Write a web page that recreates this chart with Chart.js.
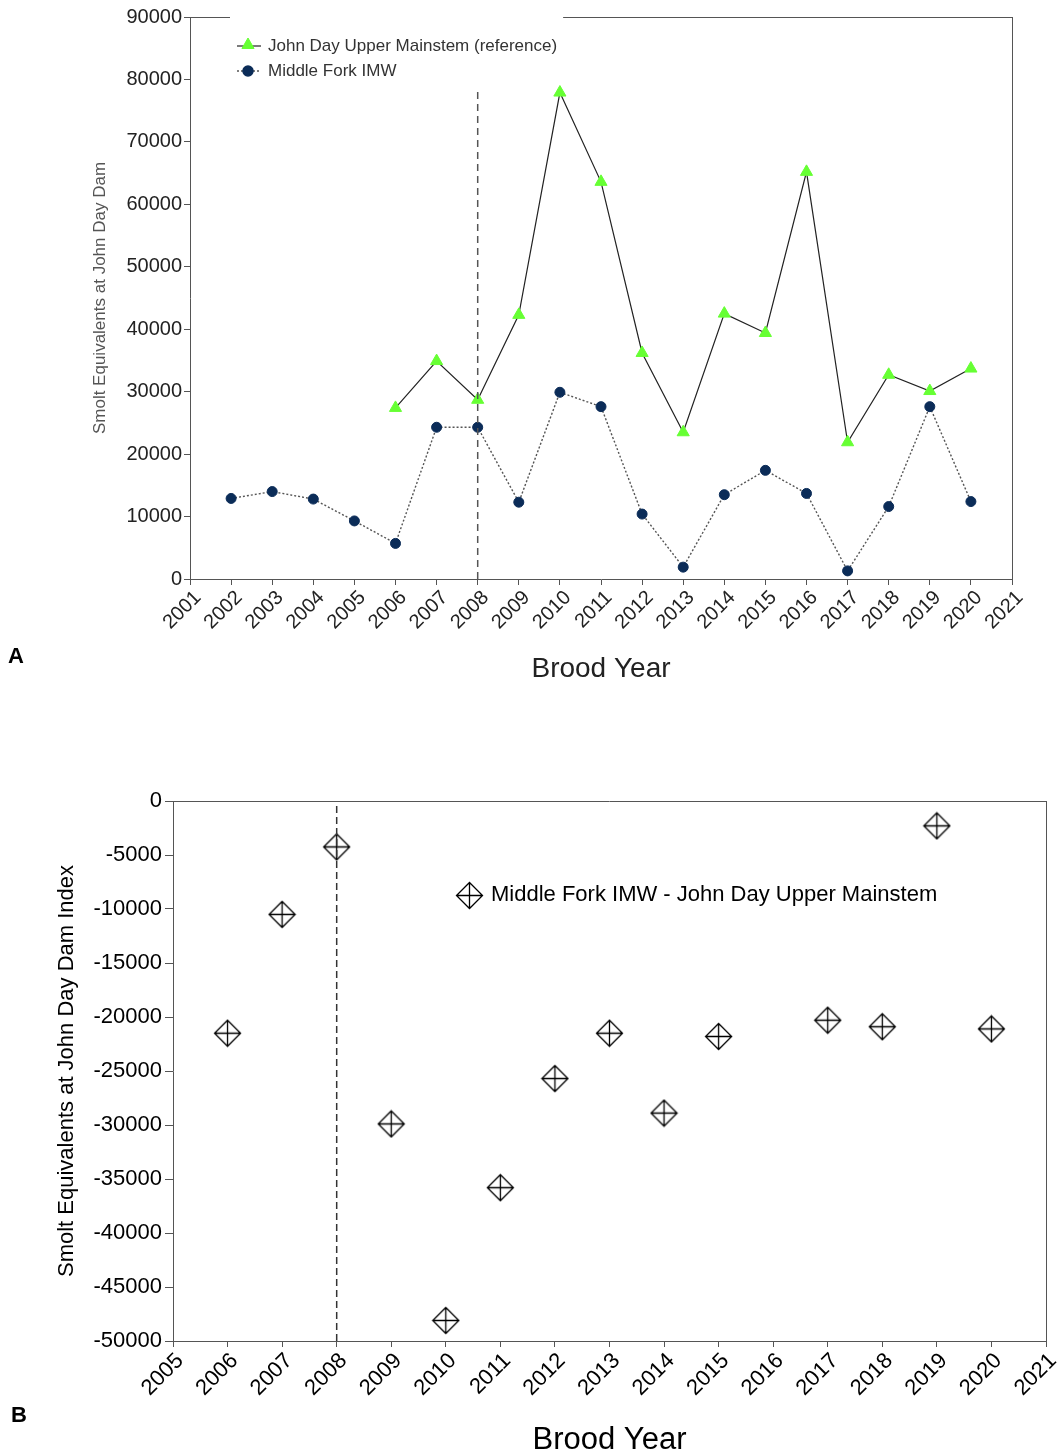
<!DOCTYPE html>
<html><head><meta charset="utf-8">
<script src="https://cdn.jsdelivr.net/npm/chart.js@4.4.1/dist/chart.umd.min.js"></script>
<style>
html,body{margin:0;padding:0;background:#fff;width:1060px;height:1452px;overflow:hidden;}
canvas{position:absolute;left:0;display:block;}
#ca{top:0;}
#cb{top:700px;}
.pl{position:absolute;font:bold 22px 'Liberation Sans',Arial,sans-serif;line-height:22px;color:#000;}
</style></head><body>
<canvas id="ca" width="1060" height="700"></canvas>
<canvas id="cb" width="1060" height="752"></canvas>
<div class="pl" style="left:8px;top:645px">A</div>
<div class="pl" style="left:11px;top:1404px">B</div>
<script>
// ---------- DATA (panel A) ----------
const xTicksA = [2001,2002,2003,2004,2005,2006,2007,2008,2009,2010,2011,2012,2013,2014,2015,2016,2017,2018,2019,2020,2021];
const yTicksA = [0,10000,20000,30000,40000,50000,60000,70000,80000,90000];
const upperYears  = [2006,2007,2008,2009,2010,2011,2012,2013,2014,2015,2016,2017,2018,2019,2020];
const upperValues = [27400,34900,28700,42300,77900,63600,36200,23500,42500,39400,65200,21900,32700,30100,33700];
const middleYears  = [2002,2003,2004,2005,2006,2007,2008,2009,2010,2011,2012,2013,2014,2015,2016,2017,2018,2019,2020];
const middleValues = [12900,14000,12800,9300,5700,24300,24300,12300,29900,27600,10400,1900,13500,17400,13700,1300,11600,27600,12400];
const refYear = 2008;
const refLineA = [0, 78000];
const seriesNamesA = ['John Day Upper Mainstem (reference)', 'Middle Fork IMW'];

// ---------- DATA (panel B) ----------
const xTicksB = [2005,2006,2007,2008,2009,2010,2011,2012,2013,2014,2015,2016,2017,2018,2019,2020,2021];
const yTicksB = [-50000,-45000,-40000,-35000,-30000,-25000,-20000,-15000,-10000,-5000,0];
const diffYears  = [2006,2007,2008,2009,2010,2011,2012,2013,2014,2015,2017,2018,2019,2020];
const diffValues = [-21500,-10500,-4250,-29900,-48100,-35800,-25700,-21500,-28900,-21800,-20300,-20900,-2300,-21100];
const refLineB = [-50000, 0];
const seriesNameB = 'Middle Fork IMW - John Day Upper Mainstem';

// ---------- helpers ----------
const FF = "'Liberation Sans', Arial, sans-serif";
const pts = (xs, ys) => xs.map((x, i) => ({x: x, y: ys[i]}));
const setTicks = arr => scale => { scale.ticks = arr.map(v => ({value: v})); };

// diamond-with-cross marker image
function makeDiamond(R) {
  const s = Math.ceil(2 * R + 3);
  const c = document.createElement('canvas');
  c.width = s; c.height = s;
  const g = c.getContext('2d');
  const m = s / 2;
  g.strokeStyle = '#000'; g.lineWidth = 1.3;
  g.beginPath();
  g.moveTo(m, m - R); g.lineTo(m + R, m); g.lineTo(m, m + R); g.lineTo(m - R, m); g.closePath();
  g.moveTo(m, m - R); g.lineTo(m, m + R);
  g.moveTo(m - R, m); g.lineTo(m + R, m);
  g.stroke();
  return c;
}
const diamondImg = makeDiamond(13);

// ---------- Panel A ----------
const GREEN = '#66ff33';
const NAVY = '#0b2c58';

const frameLegendA = {
  id: 'frameLegendA',
  afterDraw(chart) {
    const ctx = chart.ctx, ca = chart.chartArea;
    ctx.save();
    ctx.font = '17px ' + FF;
    const mx = ca.left + 58, tx = ca.left + 78;
    const rows = [ca.top + 29, ca.top + 54];
    const tw = Math.max(...seriesNamesA.map(l => ctx.measureText(l).width));
    const gapL = mx - 18, gapR = tx + tw + 6;
    // frame top (broken by legend) + right
    ctx.strokeStyle = '#555'; ctx.lineWidth = 1;
    ctx.beginPath();
    ctx.moveTo(ca.left, ca.top + 0.5); ctx.lineTo(gapL, ca.top + 0.5);
    ctx.moveTo(gapR, ca.top + 0.5); ctx.lineTo(ca.right, ca.top + 0.5);
    ctx.moveTo(ca.right + 0.5, ca.top); ctx.lineTo(ca.right + 0.5, ca.bottom);
    ctx.stroke();
    // legend row 1
    ctx.strokeStyle = '#222'; ctx.lineWidth = 1.2; ctx.setLineDash([]);
    ctx.beginPath(); ctx.moveTo(mx - 11, rows[0]); ctx.lineTo(mx + 13, rows[0]); ctx.stroke();
    ctx.fillStyle = GREEN; ctx.strokeStyle = GREEN; ctx.lineWidth = 1;
    Chart.helpers.drawPoint(ctx, {pointStyle: 'triangle', radius: 7, borderWidth: 1}, mx, rows[0] - 1);
    // legend row 2
    ctx.strokeStyle = '#555'; ctx.lineWidth = 1.5; ctx.setLineDash([2, 2]);
    ctx.beginPath(); ctx.moveTo(mx - 11, rows[1]); ctx.lineTo(mx + 11, rows[1]); ctx.stroke();
    ctx.setLineDash([]);
    ctx.fillStyle = NAVY; ctx.strokeStyle = NAVY;
    Chart.helpers.drawPoint(ctx, {pointStyle: 'circle', radius: 5, borderWidth: 1}, mx, rows[1]);
    // texts
    ctx.fillStyle = '#333'; ctx.textBaseline = 'middle'; ctx.textAlign = 'left';
    seriesNamesA.forEach((l, i) => ctx.fillText(l, tx, rows[i]));
    ctx.restore();
  }
};

new Chart(document.getElementById('ca'), {
  type: 'scatter',
  data: {
    datasets: [
      {
        label: 'ref', data: pts([refYear, refYear], refLineA), showLine: true,
        borderColor: '#555', borderWidth: 1.5, borderDash: [7, 5], pointRadius: 0
      },
      {
        label: seriesNamesA[1], data: pts(middleYears, middleValues), showLine: true,
        borderColor: '#555', borderWidth: 1.4, borderDash: [2, 2],
        pointStyle: 'circle', pointRadius: 5, pointBackgroundColor: NAVY, pointBorderColor: NAVY, pointBorderWidth: 1
      },
      {
        label: seriesNamesA[0], data: pts(upperYears, upperValues), showLine: true,
        borderColor: '#222', borderWidth: 1.2,
        pointStyle: 'triangle', pointRadius: 7, pointBackgroundColor: GREEN, pointBorderColor: GREEN, pointBorderWidth: 1
      }
    ]
  },
  options: {
    responsive: false, animation: false, devicePixelRatio: 1, events: [],
    layout: {padding: {left: 0, top: 17, right: 48, bottom: 0}},
    plugins: {legend: {display: false}, tooltip: {enabled: false}},
    scales: {
      x: {
        type: 'linear', min: 2001, max: 2021,
        afterBuildTicks: setTicks(xTicksA),
        afterFit: s => { s.height = 121; s.paddingLeft = 0; s.paddingRight = 0; },
        grid: {drawOnChartArea: false, drawTicks: true, tickLength: 6, color: '#555'},
        border: {display: true, color: '#555', width: 1},
        ticks: {autoSkip: false, maxRotation: 45, minRotation: 45, padding: 1, labelOffset: 8, color: '#222',
                font: {family: FF, size: 20}, callback: v => String(v)},
        title: {display: true, text: 'Brood Year', color: '#222',
                font: {family: FF, size: 28, lineHeight: 1}, padding: {top: 0, bottom: 17}}
      },
      y: {
        type: 'linear', min: 0, max: 90000,
        afterBuildTicks: setTicks(yTicksA),
        afterFit: s => { s.width = 190; },
        grid: {drawOnChartArea: false, drawTicks: true, tickLength: 6, color: '#555'},
        border: {display: true, color: '#555', width: 1},
        ticks: {padding: 2, color: '#222', font: {family: FF, size: 20}, callback: v => String(v)},
        title: {display: true, text: 'Smolt Equivalents at John Day Dam', color: '#555',
                font: {family: FF, size: 17, lineHeight: 1}, padding: {top: 91.5, bottom: 0}}
      }
    }
  },
  plugins: [frameLegendA]
});

// ---------- Panel B ----------
const frameLegendB = {
  id: 'frameLegendB',
  afterDraw(chart) {
    const ctx = chart.ctx, ca = chart.chartArea;
    ctx.save();
    ctx.strokeStyle = '#555'; ctx.lineWidth = 1;
    ctx.beginPath();
    ctx.moveTo(ca.left, ca.top + 0.5); ctx.lineTo(ca.right, ca.top + 0.5);
    ctx.moveTo(ca.right + 0.5, ca.top); ctx.lineTo(ca.right + 0.5, ca.bottom);
    ctx.stroke();
    const mx = ca.left + 296, my = ca.top + 94;
    ctx.drawImage(diamondImg, Math.round(mx - diamondImg.width / 2), Math.round(my - diamondImg.height / 2));
    ctx.font = '22px ' + FF; ctx.fillStyle = '#000';
    ctx.textBaseline = 'middle'; ctx.textAlign = 'left';
    ctx.fillText(seriesNameB, mx + 22, my);
    ctx.restore();
  }
};

new Chart(document.getElementById('cb'), {
  type: 'scatter',
  data: {
    datasets: [
      {
        label: 'ref', data: pts([refYear, refYear], refLineB), showLine: true,
        borderColor: '#333', borderWidth: 1.5, borderDash: [7, 4], pointRadius: 0
      },
      {
        label: seriesNameB, data: pts(diffYears, diffValues), showLine: false,
        pointStyle: diamondImg, pointRadius: 13
      }
    ]
  },
  options: {
    responsive: false, animation: false, devicePixelRatio: 1, events: [],
    layout: {padding: {left: 0, top: 101, right: 12, bottom: 0}},
    plugins: {legend: {display: false}, tooltip: {enabled: false}},
    scales: {
      x: {
        type: 'linear', min: 2005, max: 2021,
        afterBuildTicks: setTicks(xTicksB),
        afterFit: s => { s.height = 111; s.paddingLeft = 0; s.paddingRight = 0; },
        grid: {drawOnChartArea: false, drawTicks: true, tickLength: 6, color: '#555'},
        border: {display: true, color: '#555', width: 1},
        ticks: {autoSkip: false, maxRotation: 45, minRotation: 45, padding: 1, labelOffset: 7, color: '#000',
                font: {family: FF, size: 22}, callback: v => String(v)},
        title: {display: true, text: 'Brood Year', color: '#000',
                font: {family: FF, size: 31, lineHeight: 1}, padding: {top: 0, bottom: -4}}
      },
      y: {
        type: 'linear', min: -50000, max: 0,
        afterBuildTicks: setTicks(yTicksB),
        afterFit: s => { s.width = 173; },
        grid: {drawOnChartArea: false, drawTicks: true, tickLength: 8, color: '#555'},
        border: {display: true, color: '#555', width: 1},
        ticks: {padding: 3, color: '#000', font: {family: FF, size: 22}, callback: v => String(v)},
        title: {display: true, text: 'Smolt Equivalents at John Day Dam Index', color: '#000',
                font: {family: FF, size: 22, lineHeight: 1}, padding: {top: 56, bottom: 0}}
      }
    }
  },
  plugins: [frameLegendB]
});
</script>
</body></html>
